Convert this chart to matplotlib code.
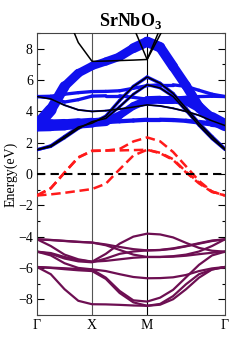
import numpy as np
import matplotlib
matplotlib.use('Agg')
from matplotlib import pyplot as plt
from matplotlib.collections import LineCollection

plt.rcParams['font.family'] = ['Liberation Serif', 'DejaVu Serif']
plt.rcParams['mathtext.fontset'] = 'custom'
plt.rcParams['mathtext.rm'] = 'Liberation Serif'
plt.rcParams['mathtext.bf'] = 'Liberation Serif:bold'

# k-path Γ-X-M-Γ, sample points read along each segment
seg_len = [1.0, 1.0, np.sqrt(2)]
frac_gx = [0, 0.25, 0.5, 0.75, 1.0]
frac_xm = [0.25, 0.5, 0.75, 1.0]
frac_mg = [1/6, 2/6, 3/6, 4/6, 5/6, 1.0]
k = np.concatenate([np.array(frac_gx) * seg_len[0],
                    seg_len[0] + np.array(frac_xm) * seg_len[1],
                    seg_len[0] + seg_len[1] + np.array(frac_mg) * seg_len[2]])
k_ticks = [0, seg_len[0], seg_len[0] + seg_len[1], sum(seg_len)]
k_labels = ['Γ', 'X', 'M', 'Γ']

# O 2p valence bands (eV)
v1 = [-4.17, -4.22, -4.28, -4.34, -4.38, -4.5, -4.66, -4.8, -4.88, -4.86, -4.78, -4.62, -4.45, -4.28, -4.17]
v2 = [-4.17, -4.21, -4.27, -4.33, -4.38, -4.55, -4.85, -5.15, -5.3, -5.3, -5.25, -5.15, -4.95, -4.6, -4.17]
v3 = [-4.17, -4.6, -5.15, -5.45, -5.6, -5.1, -4.45, -4.0, -3.81, -3.86, -4.05, -4.4, -4.72, -4.9, -4.96]
v4 = [-4.96, -5.05, -5.3, -5.5, -5.6, -5.55, -5.45, -5.35, -5.3, -5.3, -5.28, -5.22, -5.12, -5.03, -4.96]
v5 = [-4.96, -5.1, -5.4, -5.58, -5.64, -5.4, -5.1, -4.95, -4.88, -4.85, -4.75, -4.6, -4.42, -4.25, -4.17]
v6 = [-4.96, -5.2, -5.7, -6.0, -6.09, -6.2, -6.4, -6.58, -6.66, -6.65, -6.6, -6.45, -6.2, -6.03, -5.94]
v7 = [-5.94, -5.98, -6.02, -6.07, -6.1, -6.62, -7.47, -8.07, -8.15, -7.9, -7.4, -6.6, -5.8, -5.2, -4.96]
v8 = [-5.94, -6.0, -6.08, -6.15, -6.2, -6.7, -7.6, -8.2, -8.42, -8.3, -7.8, -7.04, -6.4, -6.1, -5.94]
v9 = [-5.94, -6.4, -7.36, -8.1, -8.32, -8.33, -8.36, -8.4, -8.42, -8.35, -8.0, -7.36, -6.62, -6.1, -5.94]
valence = [v1, v2, v3, v4, v5, v6, v7, v8, v9]

# Nb t2g bands crossing the Fermi level
t1 = [-1.37, -1.3, -1.2, -1.08, -0.96, -0.62, 0.3, 1.18, 1.55, 1.36, 0.95, 0.15, -0.55, -1.12, -1.37]
t2 = [-1.37, -0.9, 0.1, 1.07, 1.49, 1.5, 1.51, 1.53, 1.55, 1.33, 0.9, 0.1, -0.6, -1.15, -1.37]
t3 = [-1.37, -0.92, 0.08, 1.05, 1.47, 1.5, 1.6, 2.08, 2.34, 2.09, 1.41, 0.49, -0.44, -1.12, -1.37]
t2g = [t1, t2, t3]

# conduction bands and their projected weight (fat band)
c1 = [1.55, 1.8, 2.4, 3.0, 3.25, 3.7, 4.7, 5.6, 6.2, 5.8, 5.15, 4.2, 3.25, 2.4, 1.6]
c2 = [1.55, 1.75, 2.3, 2.9, 3.35, 3.55, 4.3, 5.1, 5.7, 5.5, 4.95, 4.05, 3.1, 2.25, 1.55]
c3 = [3.1, 4.1, 5.6, 6.44, 6.9, 7.19, 7.5, 8.04, 8.45, 8.1, 6.87, 5.65, 4.3, 3.5, 3.1]
c4 = [3.1, 3.12, 3.15, 3.22, 3.28, 3.35, 3.75, 4.35, 4.72, 4.75, 4.75, 4.65, 4.2, 3.6, 3.15]
c5 = [3.1, 3.15, 3.2, 3.25, 3.3, 3.32, 3.37, 3.42, 3.47, 3.47, 3.45, 3.4, 3.3, 3.2, 3.12]
c6 = [4.95, 4.97, 5.1, 5.2, 5.27, 5.28, 5.32, 5.48, 5.65, 5.7, 5.7, 5.6, 5.35, 5.1, 4.95]
c7 = [4.95, 4.8, 4.4, 4.1, 4.0, 4.05, 4.15, 4.28, 4.42, 4.35, 4.2, 4.0, 3.75, 3.4, 3.1]
c8 = [4.95, 4.9, 4.6, 4.75, 4.98, 5.0, 5.0, 4.9, 4.78, 4.8, 4.85, 4.9, 4.95, 4.97, 4.95]
c9 = [12, 11, 10.5, 8.4, 7.2, 7.22, 7.25, 7.28, 7.32, 9.3, 11, 12, 12, 12, 12]
c10 = [12, 12, 12, 12, 12, 12, 11, 9.4, 7.32, 8.9, 10.5, 12, 12, 12, 12]

w1 = [0.35] * 15
w2 = [0.3] * 15
w3 = [1.3, 1.2, 1.0, 0.9, 0.85, 0.85, 0.9, 1.0, 1.1, 1.1, 1.0, 1.0, 1.0, 1.1, 1.3]
w4 = [1.3, 1.25, 1.2, 1.1, 1.0, 0.9, 0.8, 0.8, 0.85, 0.85, 0.85, 0.8, 0.9, 1.1, 1.3]
w5 = [0.7, 0.6, 0.5, 0.45, 0.45, 0.45, 0.45, 0.45, 0.45, 0.45, 0.45, 0.45, 0.5, 0.6, 0.7]
w6 = [0.35] * 15
w7 = [0.2] * 15
w8 = [0.35] * 15

fig = plt.figure(figsize=(2.5, 3.53), dpi=100)
ax = fig.add_axes([0.148, 0.108, 0.752, 0.798])

for band in valence:
    ax.plot(k, band, color='#6d0f52', lw=1.6, zorder=2)

for band in t2g:
    ax.plot(k, band, color='#ff1a1a', lw=1.8, dashes=(3.8, 1.9), zorder=3)

# black bands hidden under the fat bands
for band in [c3, c4, c5, c6, c8]:
    ax.plot(k, band, color='black', lw=1.1, zorder=2)


def fat(ax, e, w):
    pts = np.column_stack([k, e])
    segs = np.stack([pts[:-1], pts[1:]], axis=1)
    ww = (np.array(w[:-1]) + np.array(w[1:])) / 2 * 6.8
    lc = LineCollection(segs, linewidths=ww, colors='#1010ee', capstyle='round',
                        joinstyle='round', zorder=4)
    ax.add_collection(lc)


for e, w in [(c1, w1), (c2, w2), (c3, w3), (c4, w4), (c5, w5), (c6, w6), (c7, w7), (c8, w8)]:
    fat(ax, e, w)

for band in [c1, c2, c7, c9, c10]:
    ax.plot(k, band, color='black', lw=1.1, zorder=5)

ax.axhline(0, color='black', lw=1.5, dashes=(4, 2.5), zorder=6)
ax.axvline(k_ticks[1], color='#555555', lw=0.8, zorder=1)
ax.axvline(k_ticks[2], color='black', lw=0.8, zorder=1)

ax.set_xlim(k_ticks[0], k_ticks[-1])
ax.set_ylim(-9, 9)
ax.set_xticks(k_ticks)
ax.set_xticklabels(k_labels, fontsize=10)
ax.tick_params(axis='x', length=0, pad=3)
ax.set_yticks(np.arange(-8, 9, 2))
ax.set_yticks(np.arange(-9, 10, 1), minor=True)
ax.tick_params(axis='y', which='major', direction='in', length=5, width=0.8,
               right=True, labelsize=10, pad=3)
ax.tick_params(axis='y', which='minor', direction='in', length=2.5, width=0.8, right=True)
for s in ax.spines.values():
    s.set_linewidth(0.8)
    s.set_color('#444444')

ax.set_ylabel('Energy(eV)', fontsize=10, labelpad=0)
ax.set_title('SrNbO$_\\mathbf{3}$', fontsize=13, fontweight='bold', pad=5)

fig.savefig('out.png', dpi=100)
